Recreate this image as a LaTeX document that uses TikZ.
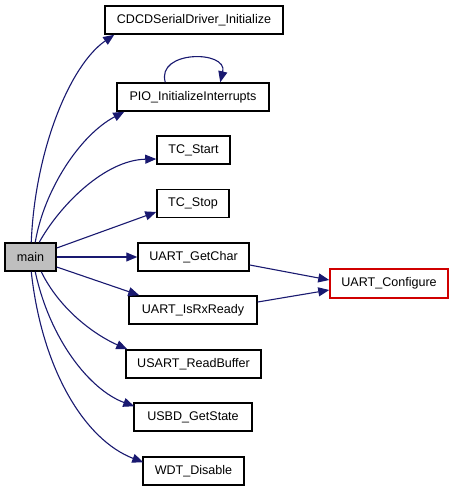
\documentclass[tikz,border=0pt]{standalone}
\usepackage{fontspec}
\setmainfont{Liberation Sans}
\usetikzlibrary{arrows.meta,calc}
\definecolor{edgeblue}{HTML}{191970}
\definecolor{maingray}{HTML}{BFBFBF}
\definecolor{callred}{HTML}{D00000}
\begin{document}
\begin{tikzpicture}[x=1bp,y=-1bp,
  box/.style={draw=black,line width=1.5bp,fill=white,inner sep=0pt,minimum height=28bp,font=\fontsize{12.6}{14}\selectfont},
  call/.style={draw=edgeblue,line width=1.1bp,-{Triangle[length=11bp,width=9bp]},edgeblue}]
\useasboundingbox (0,0) rectangle (453,491);
\fill[white] (0,0) rectangle (453,491);
\node[box,minimum width=178bp] (cdcd) at (194,20) {CDCDSerialDriver\_Initialize};
\node[box,minimum width=152bp] (pio) at (193,97) {PIO\_InitializeInterrupts};
\node[box,minimum width=73bp] (tcstart) at (193.5,150) {TC\_Start};
\node[box,minimum width=72bp] (tcstop) at (193,203.5) {TC\_Stop};
\node[box,minimum width=51bp,fill=maingray] (main) at (30.5,257) {main};
\node[box,minimum width=111bp] (getchar) at (193.5,257) {UART\_GetChar};
\node[box,minimum width=118bp,minimum height=29bp,draw=callred] (configure) at (389,283.5) {UART\_Configure};
\node[box,minimum width=128bp] (isrx) at (193,310) {UART\_IsRxReady};
\node[box,minimum width=135bp] (usart) at (193.5,364) {USART\_ReadBuffer};
\node[box,minimum width=118bp] (usbd) at (193,417) {USBD\_GetState};
\node[box,minimum width=101bp] (wdt) at (193.5,471) {WDT\_Disable};

\draw[call] ($(main.north west)+(27,0)$) .. controls (35,150) and (70,65) .. ($(cdcd.south west)+(10,0)$);
\draw[call] ($(main.north west)+(31,0)$) .. controls (44,190) and (80,135) .. ($(pio.south west)+(8,0)$);
\draw[call] ($(main.north west)+(35,0)$) .. controls (60,205) and (105,160) .. ($(tcstart.west)+(0,9)$);
\draw[call] ($(main.east)+(0,-9)$) -- ($(tcstop.west)+(0,8.5)$);
\draw[call] (main.east) -- (getchar.west);
\draw[call] ($(main.east)+(0,10)$) -- ($(isrx.north west)+(11,0)$);
\draw[call] ($(main.south west)+(37,0)$) .. controls (60,310) and (95,335) .. ($(usart.north west)+(2,0)$);
\draw[call] ($(main.south west)+(31,0)$) .. controls (50,340) and (90,390) .. ($(usbd.north west)+(1,4)$);
\draw[call] ($(main.south west)+(27,0)$) .. controls (42,370) and (85,440) .. ($(wdt.north west)+(1,6)$);
\draw[call] ($(getchar.east)+(0,8)$) -- ($(configure.west)+(0,-3.5)$);
\draw[call] ($(isrx.east)+(0,-8)$) -- ($(configure.west)+(0,6.5)$);
\draw[call] ($(pio.north west)+(49,0)$) .. controls (156,50) and (228,50) .. ($(pio.north west)+(104,0)$);
\end{tikzpicture}
\end{document}
